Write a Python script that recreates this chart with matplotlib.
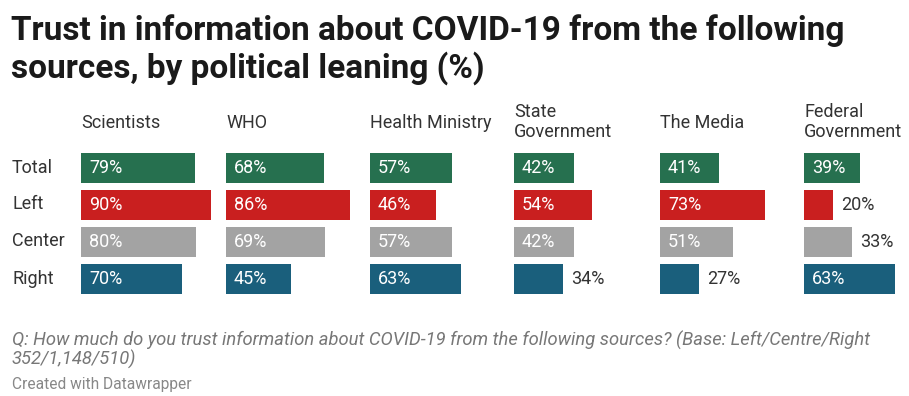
import matplotlib.pyplot as plt

plt.rcParams['font.family'] = ['Roboto', 'DejaVu Sans']

sources = ['Scientists', 'WHO', 'Health Ministry', 'State\nGovernment', 'The Media', 'Federal\nGovernment']
groups = ['Total', 'Left', 'Center', 'Right']
total = [79, 68, 57, 42, 41, 39]
left = [90, 86, 46, 54, 73, 20]
center = [80, 69, 57, 42, 51, 33]
right = [70, 45, 63, 34, 27, 63]

colors = ['#26704f', '#c91f1f', '#a3a3a3', '#1a5f7c']
W, H = 909, 396
panel_x = [81, 226, 370, 514, 660, 804]
px_per_pct = 1.44
row_top, row_bot = 149.5, 297.5

fig = plt.figure(figsize=(W / 100, H / 100), dpi=100)

fig.text(11 / W, 1 - 31 / H, 'Trust in information about COVID-19 from the following',
         fontsize=24, fontweight='bold', color='#1a1a1a', va='center', ha='left')
fig.text(11 / W, 1 - 68 / H, 'sources, by political leaning (%)',
         fontsize=24, fontweight='bold', color='#1a1a1a', va='center', ha='left')

row_y = [168, 204, 241, 279]
for g, y in zip(groups, row_y):
    fig.text(12 / W, 1 - y / H, g, fontsize=13, color='#333333', va='center', ha='left')

data = [total, left, center, right]
for i, src in enumerate(sources):
    ax = fig.add_axes([panel_x[i] / W, 1 - row_bot / H, 100 * px_per_pct / W, (row_bot - row_top) / H])
    vals = [d[i] for d in data]
    ax.barh(range(4), vals, height=0.81, color=colors, left=0)
    ax.set_xlim(0, 100)
    ax.set_ylim(3.5, -0.5)
    ax.axis('off')
    for r, v in enumerate(vals):
        if v < 35:
            ax.text(v + 6, r, f'{v}%', color='#333333', fontsize=13, va='center', ha='left')
        else:
            ax.text(5.5, r, f'{v}%', color='white', fontsize=13, va='center', ha='left')
    if '\n' in src:
        fig.text(panel_x[i] / W, 1 - 122 / H, src, fontsize=13, color='#333333',
                 va='center', ha='left', linespacing=1.12)
    else:
        fig.text(panel_x[i] / W, 1 - 123 / H, src, fontsize=13, color='#333333', va='center', ha='left')

fig.text(12 / W, 1 - 340 / H, 'Q: How much do you trust information about COVID-19 from the following sources? (Base: Left/Centre/Right',
         fontsize=13.2, style='italic', color='#777777', va='center', ha='left')
fig.text(12 / W, 1 - 359 / H, '352/1,148/510)',
         fontsize=13.2, style='italic', color='#777777', va='center', ha='left')
fig.text(12 / W, 1 - 384 / H, 'Created with Datawrapper',
         fontsize=11.2, color='#888888', va='center', ha='left')

fig.savefig('out.png', dpi=100, facecolor='white')
